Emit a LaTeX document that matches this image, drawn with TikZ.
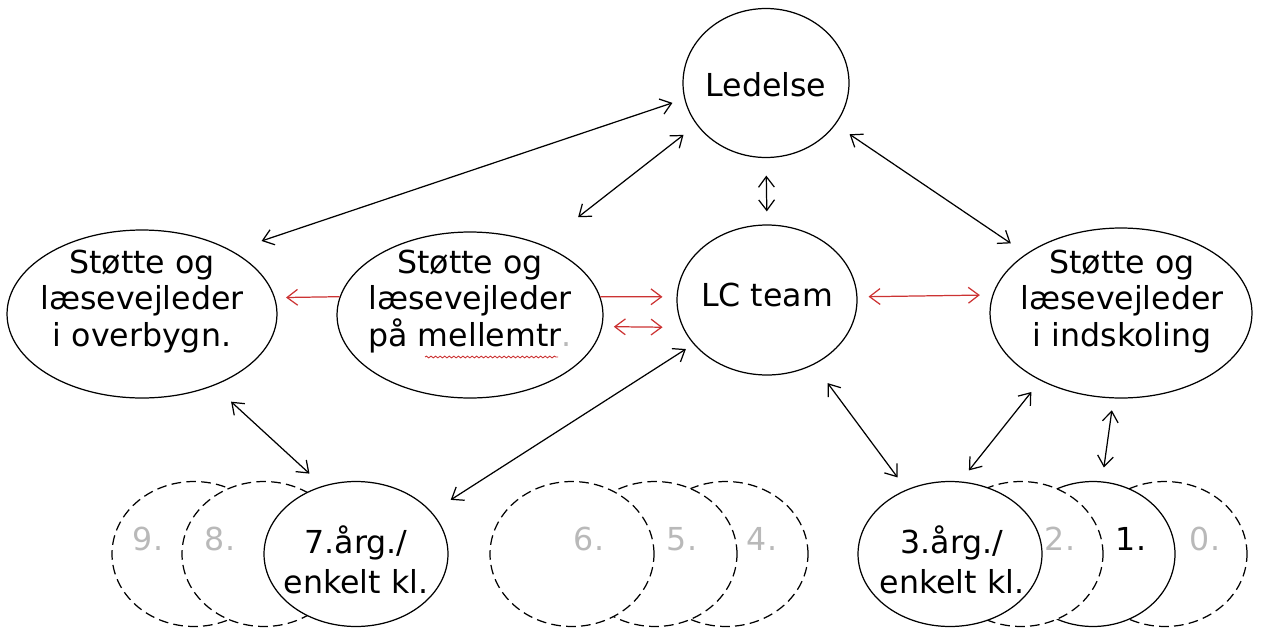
\documentclass[tikz,border=0pt]{standalone}
\usepackage{fontspec}
\setmainfont{DejaVu Sans}
\usetikzlibrary{arrows.meta,shapes.geometric,decorations.pathmorphing}
\definecolor{lcred}{RGB}{204,51,51}
\definecolor{lcgray}{RGB}{185,185,185}

\begin{document}
\begin{tikzpicture}[x=0.02cm,y=-0.02cm,
    bubble/.style={draw,ellipse,fill=white,line width=0.7pt,inner sep=0pt},
    klasse/.style={bubble,minimum width=3.28cm,minimum height=2.9cm},
    stiplet/.style={klasse,dash pattern=on 5.5pt off 3pt},
    txt/.style={align=center,inner sep=0pt,font=\fontsize{18}{21}\selectfont},
    ktxt/.style={txt,font=\fontsize{18}{22.8}\selectfont},
    nr/.style={txt,text=lcgray},
    dbl/.style={{Straight Barb[length=6pt,width=9pt]}-{Straight Barb[length=6pt,width=9pt]},line width=0.7pt},
    enkel/.style={-{Straight Barb[length=6pt,width=9pt]},line width=0.7pt}]
    \useasboundingbox (0,0) rectangle (1261,629);

    % Ledelse og LC team
    \node[bubble,minimum width=3.32cm,minimum height=2.98cm] (led) at (766,83) {};
    \node[txt] (led-t) at (766,85) {Ledelse};
    \node[bubble,minimum width=3.6cm,minimum height=3cm] (lc) at (767,300) {};
    \node[txt] (lc-t) at (767,295) {LC team};

    % Støtte og læsevejledere
    \node[bubble,minimum width=5.4cm,minimum height=3.36cm] (overb) at (142,314) {};
    \node[txt] (overb-t) at (142,301.5) {Støtte og\\læsevejleder\\i overbygn.};
    \node[bubble,minimum width=5.32cm,minimum height=3.32cm] (mellem) at (470,315) {};
    \node[txt] (mellem-t) at (470,301.5) {Støtte og\\læsevejleder\\på mellemtr{\color{lcgray}.}};
    \draw[lcred,line width=0.5pt,decorate,decoration={snake,amplitude=0.5pt,segment length=2.6pt}] (425,357) -- (558,357);
    \node[bubble,minimum width=5.24cm,minimum height=3.4cm] (indsk) at (1121,313) {};
    \node[txt] (indsk-t) at (1122,301.5) {Støtte og\\læsevejleder\\i indskoling};

    % Overbygning 9.-7.
    \node[stiplet] (k9) at (194,554) {};
    \node[stiplet] (k8) at (264,554) {};
    \node[klasse,minimum width=3.68cm] (k7) at (356,554) {};

    % Mellemtrin 6.-4.
    \node[stiplet] (k4) at (726,554) {};
    \node[stiplet] (k5) at (655,554) {};
    \node[stiplet] (k6) at (572,554) {};

    % Indskoling 3.-0.
    \node[stiplet] (k0) at (1165,554) {};
    \node[klasse] (k1) at (1093,554) {};
    \node[stiplet] (k2) at (1021,554) {};
    \node[klasse,minimum width=3.68cm] (k3) at (950,554) {};

    % klassetrin
    \node[nr] (k9-t) at (148,539) {9.};
    \node[nr] (k8-t) at (220,539) {8.};
    \node[ktxt] (k7-t) at (356,560) {7.årg./\\enkelt kl.};
    \node[nr] (k6-t) at (589,539) {6.};
    \node[nr] (k5-t) at (682,539) {5.};
    \node[nr] (k4-t) at (762,539) {4.};
    \node[ktxt] (k3-t) at (952,560) {3.årg./\\enkelt kl.};
    \node[nr] (k2-t) at (1060,539) {2.};
    \node[txt] (k1-t) at (1131,539) {1.};
    \node[nr] (k0-t) at (1205,539) {0.};

    % pile fra ledelsen
    \draw[dbl,shorten <=0.62cm,shorten >=0.25cm] (overb.35) -- (led.191.5);
    \draw[dbl,shorten <=0.9cm,shorten >=0.33cm] (mellem.44.7) -- (led.211);
    \draw[dbl,shorten <=0.35cm,shorten >=0.26cm] (led.south) -- (lc.north);
    \draw[dbl,shorten <=0.34cm,shorten >=0.37cm] (led.329.2) -- (indsk.148.5);

    % røde pile
    \draw[enkel,lcred,shorten >=0.22cm] (mellem.172) -- (overb.7);
    \draw[enkel,lcred,shorten >=0.28cm] (mellem.8) -- (lc.178);
    \draw[dbl,lcred,shorten <=0.23cm,shorten >=0.4cm] (mellem.355) -- (lc.198);
    \draw[dbl,lcred,shorten <=0.22cm,shorten >=0.25cm] (lc.2.5) -- (indsk.172.5);

    % pile til klasserne
    \draw[dbl,shorten <=0.18cm,shorten >=0.45cm] (lc.211.5) -- (k7.29.9);
    \draw[dbl,shorten <=0.47cm,shorten >=0.36cm] (overb.315) -- (k7.116);
    \draw[dbl,shorten <=0.46cm,shorten >=0.3cm] (lc.306.6) -- (k3.124.9);
    \draw[dbl,shorten <=0.29cm,shorten >=0.28cm] (indsk.220.2) -- (k3.82);
    \draw[dbl,shorten <=0.24cm,shorten >=0.28cm] (indsk.265.3) -- (k1.83.4);
\end{tikzpicture}
\end{document}
